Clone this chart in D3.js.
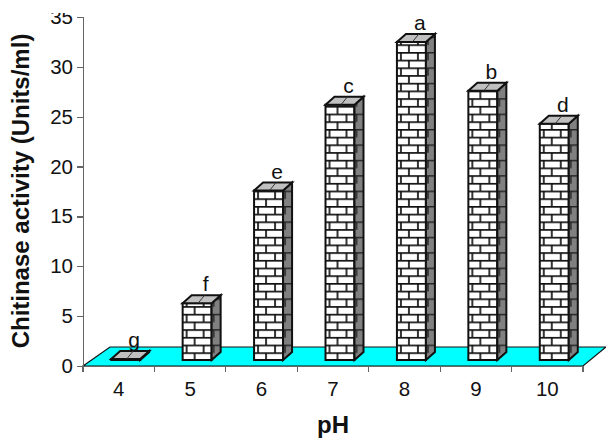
<!DOCTYPE html>
<meta charset="utf-8">
<style>
body { margin: 0; background: #fff; }
text { font-family: "Liberation Sans", Arial, sans-serif; fill: #111; }
.axis path, .axis line { fill: none; stroke: #666; stroke-width: 1.2; shape-rendering: crispEdges; }
.axis text { font-size: 20.5px; font-family: "Liberation Sans", Arial, sans-serif; }
.title { font-size: 24px; font-weight: bold; }
.letter { font-size: 21px; }
</style>
<svg width="606" height="438">
  <defs>
    <pattern id="bricks" width="17" height="15.4" patternUnits="userSpaceOnUse">
      <rect width="17" height="15.4" fill="#fff"/>
      <path d="M0 0.8H17M0 8.5H17M4 0.8V8.5M12 8.5V15.4" stroke="#111" stroke-width="1.7" fill="none"/>
    </pattern>
    <pattern id="sideBricks" width="9" height="15.4" patternUnits="userSpaceOnUse">
      <rect width="9" height="15.4" fill="#808080"/>
      <path d="M0 0.8H9M4 0.8V8.5" stroke="#222" stroke-width="1.5" fill="none"/>
    </pattern>
  </defs>
</svg>
<script src="https://d3js.org/d3.v7.min.js"></script>
<script>
var pH = ["4", "5", "6", "7", "8", "9", "10"];
var activity = [0.1, 5.7, 17, 25.6, 31.9, 27, 23.7];
var letters = ["g", "f", "e", "c", "a", "b", "d"];
var yTicks = [0, 5, 10, 15, 20, 25, 30, 35];

var svg = d3.select("svg"),
  margin = {top: 17, right: 23, bottom: 72, left: 83},
  width = 606 - margin.left - margin.right,
  height = 438 - margin.top - margin.bottom;

var x = d3.scaleBand().domain(pH).range([0, width]);
var y = d3.scaleLinear().domain([0, 35]).range([height, 0]);

// 3d offsets, floor is the whole depth and a bar takes up part of it
var floorDx = 27, floorDy = 19, depthX = 9, depthY = 8;
var barW = 29, barShift = 7, barLift = 6;

var g = svg.append("g")
  .attr("transform", "translate(" + margin.left + "," + margin.top + ")");

g.append("path")
  .attr("d", "M0," + height + "L" + floorDx + "," + (height - floorDy) +
    "L" + (width + floorDx - 4) + "," + (height - floorDy) +
    "L" + width + "," + height + "Z")
  .attr("fill", "#00ffff")
  .attr("stroke", "#111")
  .attr("stroke-width", 1.2);

g.append("g")
  .attr("class", "axis")
  .attr("transform", "translate(0," + height + ")")
  .call(d3.axisBottom(x).tickSize(0).tickPadding(15.5));

// excel ticks sit between the categories
g.append("g").selectAll("line")
  .data(pH.concat("end")).enter().append("line")
  .attr("x1", function(d, i) { return i * x.step(); })
  .attr("x2", function(d, i) { return i * x.step(); })
  .attr("y1", height)
  .attr("y2", height + 6)
  .attr("stroke", "#666")
  .attr("stroke-width", 1.2)
  .attr("shape-rendering", "crispEdges");

g.append("g")
  .attr("class", "axis")
  .call(d3.axisLeft(y).tickValues(yTicks).tickSize(6).tickPadding(4).tickSizeOuter(6));

var bar = g.selectAll(".bar")
  .data(pH).enter().append("g")
  .attr("class", "bar")
  .attr("transform", function(d) {
    return "translate(" + (x(d) + x.step() / 2 + barShift - barW / 2) + "," + (height - barLift) + ")";
  });

function barH(i) { return height - y(activity[i]); }

bar.append("rect")
  .attr("y", function(d, i) { return -barH(i); })
  .attr("width", barW)
  .attr("height", function(d, i) { return barH(i); })
  .attr("fill", "url(#bricks)")
  .attr("stroke", "#111")
  .attr("stroke-width", 2);

bar.append("path")
  .attr("d", function(d, i) {
    return "M" + barW + ",0L" + (barW + depthX) + "," + (-depthY) +
      "V" + (-barH(i) - depthY) + "L" + barW + "," + (-barH(i)) + "Z";
  })
  .attr("fill", "url(#sideBricks)")
  .attr("stroke", "#111")
  .attr("stroke-width", 2);

bar.append("path")
  .attr("d", function(d, i) {
    return "M0," + (-barH(i)) + "L" + depthX + "," + (-barH(i) - depthY) +
      "H" + (barW + depthX) + "L" + barW + "," + (-barH(i)) + "Z";
  })
  .attr("fill", "#c0c0c0")
  .attr("stroke", "#111")
  .attr("stroke-width", 2);

// brick joints on the lid
bar.append("path")
  .attr("d", function(d, i) {
    return "M" + (barW / 2 + 1) + "," + (-barH(i)) + "L" + (barW / 2 + depthX / 2 + 3) + "," + (-barH(i) - depthY / 2 - 4);
  })
  .attr("stroke", "#333")
  .attr("fill", "none");

bar.append("text")
  .attr("class", "letter")
  .attr("text-anchor", "middle")
  .attr("x", barW / 2 + depthX / 2 + 4)
  .attr("y", function(d, i) { return -barH(i) - depthY - 4; })
  .text(function(d, i) { return letters[i]; });

svg.append("text")
  .attr("class", "title")
  .attr("text-anchor", "middle")
  .attr("transform", "translate(28.5,191) rotate(-90)")
  .text("Chitinase activity (Units/ml)");

svg.append("text")
  .attr("class", "title")
  .attr("text-anchor", "middle")
  .attr("x", 333)
  .attr("y", 432.5)
  .text("pH");

// the reference is cropped just above the top tick label
svg.append("rect").attr("width", 606).attr("height", 13).attr("fill", "#fff");
</script>
